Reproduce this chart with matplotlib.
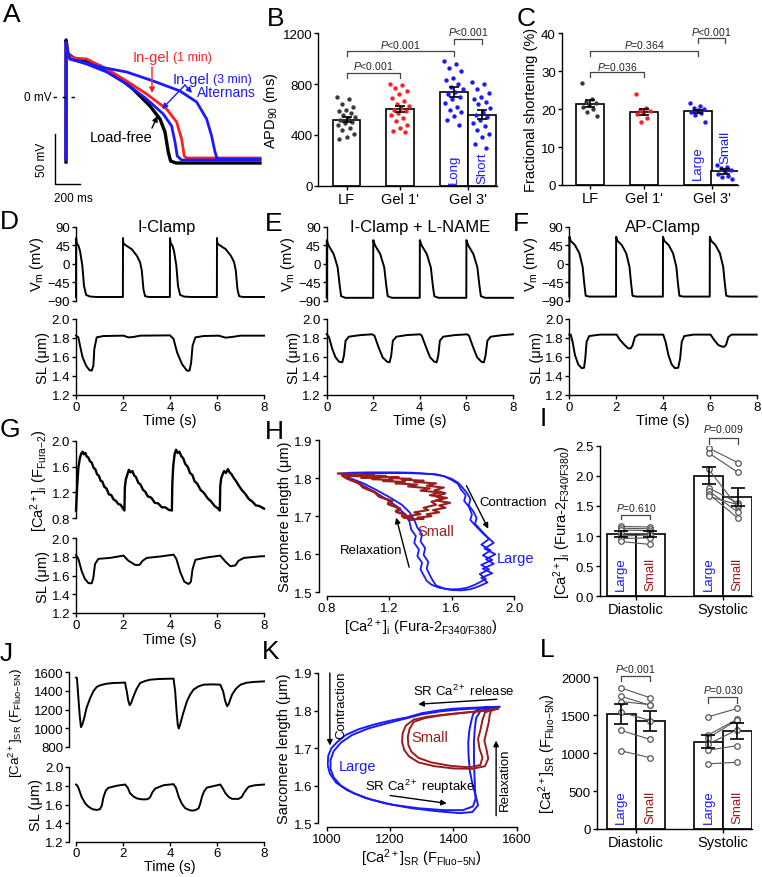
import numpy as np
import matplotlib
matplotlib.use('Agg')
import matplotlib.pyplot as plt

plt.rcParams['font.family'] = ['Liberation Sans', 'DejaVu Sans']
plt.rcParams['mathtext.fontset'] = 'custom'
plt.rcParams['mathtext.rm'] = 'Liberation Sans'
plt.rcParams['mathtext.it'] = 'Liberation Sans:italic'
plt.rcParams['mathtext.bf'] = 'Liberation Sans:bold'
plt.rcParams['axes.linewidth'] = 1.0

# ---------------- DATA ----------------
# Panel A: action potentials (time ms, mV)
A_black_t = [0, 1, 16, 60, 165, 272, 405, 536, 672, 752, 792, 818, 837, 880, 1552]
A_black_v = [-65, 57, 43, 39, 36, 31, 21, 8, -9, -22, -35, -55, -64, -66, -66]
A_red_t = [0, 1, 16, 60, 165, 325, 485, 645, 805, 885, 925, 946, 965, 1552]
A_red_v = [-62, 55, 42, 39, 38, 28, 16, 3, -12, -25, -42, -59, -61, -61]
A_bshort_t = [0, 1, 12, 32, 165, 325, 485, 645, 778, 845, 872, 890, 925, 1552]
A_bshort_v = [-62, 55, 44, 38, 33, 25, 13, -2, -17, -29, -45, -59, -63, -63]
A_blong_t = [0, 1, 12, 32, 165, 272, 485, 698, 912, 1045, 1125, 1165, 1192, 1210, 1552]
A_blong_v = [-62, 55, 44, 38, 34, 30, 25, 16, 6, -5, -22, -39, -55, -62, -62]

# Panel B: APD90 (ms)
B_groups = ["LF", "Gel 1'", "Gel 3'"]
B_means = [520, 605, 735, 560]
B_sem = [20, 25, 40, 35]
B_LF = [700, 685, 640, 620, 600, 585, 570, 555, 540, 530, 520, 505, 495, 475, 455, 435, 410, 385, 365]
B_Gel1 = [800, 795, 770, 745, 720, 690, 665, 640, 625, 610, 600, 590, 575, 560, 530, 510, 480, 455, 430, 420]
B_Long = [980, 960, 930, 900, 850, 830, 800, 780, 760, 740, 720, 700, 680, 650, 620, 600, 580, 550, 520, 480]
B_Short = [820, 800, 760, 730, 700, 680, 660, 640, 610, 580, 560, 540, 520, 490, 470, 440, 410, 380, 330, 300]

# Panel C: fractional shortening (%)
C_means = [21.4, 19.3, 19.4, 3.6]
C_sem = [0.9, 0.8, 0.5, 0.6]
C_LF = [26.8, 22.6, 22.0, 21.5, 21.0, 20.5, 20.0, 19.2, 18.2]
C_Gel1 = [24.1, 20.2, 19.8, 19.4, 19.0, 18.6, 17.6, 16.5]
C_Large = [21.5, 20.7, 20.3, 20.0, 19.7, 19.3, 19.0, 18.4, 16.6]
C_Small = [5.4, 4.7, 4.4, 3.9, 3.5, 3.0, 2.5, 2.2, 1.5]

# Panel D: I-Clamp
D_vm_t = [0, 0.005, 0.03, 0.1, 0.17, 0.27, 0.34, 0.43, 0.6, 0.9,
          1.995, 2.0, 2.01, 2.05, 2.37, 2.59, 2.73, 2.8, 2.87, 2.94, 3.1,
          3.995, 4.0, 4.03, 4.1, 4.17, 4.27, 4.34, 4.43, 4.6, 4.9,
          5.995, 6.0, 6.01, 6.05, 6.37, 6.59, 6.73, 6.8, 6.87, 6.94, 7.1, 8.0]
D_vm_v = [-81, 62, 50, 44, 31, -5, -54, -76, -80, -81,
          -81, 62, 52, 47, 35, 19, 3, -17, -62, -79, -81,
          -81, 62, 50, 44, 31, -5, -54, -76, -80, -81,
          -81, 62, 52, 47, 35, 19, 3, -17, -62, -79, -81, -81]
D_sl_t = [0, 0.1, 0.17, 0.28, 0.43, 0.57, 0.67, 0.74, 0.78, 0.88, 1.17, 2.02, 2.23, 2.45, 2.73,
          4.0, 4.15, 4.3, 4.51, 4.72, 4.83, 4.9, 4.96, 5.08, 5.43, 6.07, 6.36, 6.64, 7.0, 8.0]
D_sl_v = [1.824, 1.806, 1.72, 1.595, 1.507, 1.46, 1.454, 1.507, 1.683, 1.806, 1.82, 1.824, 1.806, 1.81, 1.824,
          1.827, 1.79, 1.648, 1.524, 1.454, 1.454, 1.54, 1.718, 1.806, 1.82, 1.824, 1.803, 1.81, 1.824, 1.824]

# Panel E: I-Clamp + L-NAME
E_vm_t = [0, 0.005, 0.07, 0.3, 0.47, 0.56, 0.62, 0.8,
          1.995, 2.0, 2.07, 2.3, 2.47, 2.56, 2.62, 2.8,
          3.995, 4.0, 4.07, 4.3, 4.47, 4.56, 4.62, 4.8,
          5.995, 6.0, 6.07, 6.3, 6.47, 6.56, 6.62, 6.8, 8.0]
E_vm_v = [-83, 57, 45, 23, -9, -54, -79, -83,
          -83, 57, 45, 23, -9, -54, -79, -83,
          -83, 57, 45, 23, -9, -54, -79, -83,
          -83, 57, 45, 23, -9, -54, -79, -83, -83]
E_sl_t = [0, 0.1, 0.24, 0.38, 0.53, 0.67, 0.74, 0.81, 0.95, 1.45,
          1.95, 2.05, 2.23, 2.4, 2.59, 2.7, 2.77, 2.84, 2.99, 3.44,
          4.01, 4.08, 4.27, 4.44, 4.62, 4.72, 4.79, 4.86, 5.0, 5.5,
          6.03, 6.11, 6.29, 6.46, 6.64, 6.75, 6.82, 6.9, 7.04, 7.56, 8.0]
E_sl_v = [1.84, 1.806, 1.683, 1.595, 1.549, 1.542, 1.612, 1.77, 1.813, 1.83,
          1.838, 1.824, 1.70, 1.595, 1.549, 1.542, 1.612, 1.77, 1.813, 1.83,
          1.838, 1.824, 1.70, 1.595, 1.549, 1.542, 1.612, 1.77, 1.813, 1.83,
          1.838, 1.824, 1.70, 1.595, 1.549, 1.542, 1.612, 1.77, 1.813, 1.83, 1.838]

# Panel F: AP-Clamp
F_vm_t = [0, 0.005, 0.06, 0.24, 0.43, 0.57, 0.64, 0.7, 0.85,
          1.995, 2.0, 2.06, 2.24, 2.43, 2.57, 2.64, 2.7, 2.85,
          3.995, 4.0, 4.06, 4.24, 4.43, 4.57, 4.64, 4.7, 4.85,
          5.995, 6.0, 6.06, 6.24, 6.43, 6.57, 6.64, 6.7, 6.85, 8.0]
F_vm_v = [-80, 65, 55, 45, 25, -8, -49, -78, -80,
          -80, 65, 55, 45, 25, -8, -49, -78, -80,
          -80, 65, 55, 45, 25, -8, -49, -78, -80,
          -80, 65, 55, 45, 25, -8, -49, -78, -80, -80]
F_sl_t = [0, 0.06, 0.14, 0.24, 0.38, 0.53, 0.63, 0.68, 0.74, 0.85,
          1.31, 2.02, 2.16, 2.38, 2.52, 2.62, 2.7, 2.8, 2.95, 4.01,
          4.11, 4.23, 4.37, 4.51, 4.65, 4.73, 4.8, 4.91, 5.3, 6.03,
          6.18, 6.36, 6.5, 6.6, 6.69, 6.79, 6.93, 8.0]
F_sl_v = [1.835, 1.835, 1.76, 1.62, 1.52, 1.48, 1.485, 1.58, 1.76, 1.82,
          1.835, 1.835, 1.78, 1.72, 1.69, 1.69, 1.72, 1.81, 1.835, 1.835,
          1.76, 1.62, 1.52, 1.48, 1.485, 1.58, 1.76, 1.82, 1.835, 1.835,
          1.78, 1.725, 1.71, 1.705, 1.725, 1.81, 1.835, 1.835]

# Panel G: cytosolic Ca (Fura-2) and SL
G_ca_t = [0, 0.05, 0.1, 0.17, 0.22, 0.28, 0.33, 0.4, 0.45, 0.52,
          0.6, 0.67, 0.75, 0.82, 0.9, 0.97, 1.05, 1.12, 1.2, 1.3,
          1.4, 1.5, 1.6, 1.7, 1.8, 1.9, 2.0, 2.06, 2.08, 2.12,
          2.18, 2.25, 2.32, 2.4, 2.48, 2.55, 2.65, 2.75, 2.85, 2.95,
          3.05, 3.2, 3.35, 3.5, 3.65, 3.8, 3.95, 4.08, 4.1, 4.14,
          4.2, 4.26, 4.32, 4.4, 4.48, 4.56, 4.65, 4.75, 4.85, 4.95,
          5.05, 5.15, 5.3, 5.45, 5.6, 5.75, 5.9, 6.05, 6.12, 6.14,
          6.18, 6.24, 6.3, 6.38, 6.46, 6.54, 6.62, 6.72, 6.82, 6.92,
          7.05, 7.2, 7.35, 7.5, 7.65, 7.8, 8.0]
G_ca_v = [0.92, 1.30, 1.58, 1.74, 1.80, 1.83, 1.79, 1.81, 1.76, 1.74,
          1.68, 1.66, 1.58, 1.56, 1.48, 1.46, 1.38, 1.37, 1.29, 1.26,
          1.17, 1.16, 1.09, 1.07, 1.02, 1.01, 0.95, 0.92, 1.28, 1.40,
          1.47, 1.55, 1.51, 1.53, 1.46, 1.44, 1.35, 1.32, 1.24, 1.21,
          1.14, 1.12, 1.04, 1.03, 0.97, 0.97, 0.93, 0.92, 1.35, 1.62,
          1.80, 1.86, 1.81, 1.83, 1.76, 1.73, 1.64, 1.60, 1.50, 1.47,
          1.37, 1.34, 1.24, 1.19, 1.11, 1.06, 0.99, 0.95, 0.92, 1.30,
          1.42, 1.48, 1.53, 1.50, 1.56, 1.51, 1.48, 1.42, 1.37, 1.31,
          1.24, 1.18, 1.10, 1.06, 1.00, 0.99, 0.95]
G_sl_t = [0, 0.1, 0.24, 0.38, 0.53, 0.67, 0.74, 0.81, 0.95, 1.45,
          2.02, 2.23, 2.52, 2.7, 2.84, 3.01, 3.58, 4.15, 4.27, 4.44,
          4.61, 4.79, 4.89, 4.96, 5.08, 5.57, 6.14, 6.36, 6.57, 6.78,
          6.92, 7.14, 7.85, 8.0]
G_sl_v = [1.82, 1.78, 1.65, 1.565, 1.52, 1.518, 1.58, 1.725, 1.78, 1.79,
          1.815, 1.76, 1.715, 1.715, 1.76, 1.79, 1.805, 1.825, 1.78, 1.635,
          1.535, 1.51, 1.535, 1.67, 1.77, 1.795, 1.815, 1.75, 1.70, 1.71,
          1.76, 1.79, 1.807, 1.808]

# Panel H: SL vs cytosolic Ca loops
H_large1_x = [0.88, 0.95, 1.05, 1.15, 1.25, 1.35, 1.42, 1.50, 1.55, 1.60,
              1.64, 1.66, 1.69, 1.68, 1.71, 1.73, 1.72, 1.76, 1.80, 1.84,
              1.79, 1.85, 1.80, 1.86, 1.79, 1.84, 1.78, 1.82, 1.75, 1.70,
              1.64, 1.58, 1.52, 1.47, 1.44, 1.42, 1.40, 1.41, 1.38, 1.39,
              1.36, 1.37, 1.34, 1.33, 1.30, 1.25, 1.18, 1.10, 1.02, 0.95, 0.90]
H_large1_y = [1.812, 1.814, 1.815, 1.815, 1.815, 1.814, 1.812, 1.810, 1.805, 1.795,
              1.785, 1.770, 1.755, 1.740, 1.725, 1.705, 1.690, 1.672, 1.655, 1.640,
              1.625, 1.610, 1.597, 1.585, 1.572, 1.560, 1.548, 1.535, 1.520, 1.512,
              1.508, 1.508, 1.512, 1.520, 1.530, 1.545, 1.560, 1.578, 1.595, 1.612,
              1.630, 1.648, 1.665, 1.685, 1.705, 1.725, 1.745, 1.765, 1.783, 1.798, 1.808]
H_large2_x = [0.90, 1.00, 1.10, 1.20, 1.30, 1.40, 1.48, 1.55, 1.60, 1.64,
              1.67, 1.70, 1.72, 1.71, 1.74, 1.76, 1.75, 1.79, 1.83, 1.87,
              1.81, 1.88, 1.82, 1.87, 1.80, 1.86, 1.79, 1.83, 1.77, 1.72,
              1.66, 1.60, 1.55, 1.50, 1.48, 1.46, 1.44, 1.45, 1.42, 1.43,
              1.40, 1.41, 1.38, 1.36, 1.33, 1.28, 1.20, 1.12, 1.04, 0.96, 0.91]
H_large2_y = [1.808, 1.810, 1.812, 1.813, 1.813, 1.812, 1.810, 1.805, 1.798, 1.788,
              1.775, 1.760, 1.745, 1.728, 1.712, 1.695, 1.680, 1.662, 1.645, 1.630,
              1.615, 1.600, 1.587, 1.575, 1.562, 1.550, 1.538, 1.526, 1.515, 1.508,
              1.505, 1.506, 1.510, 1.518, 1.530, 1.545, 1.562, 1.580, 1.598, 1.616,
              1.634, 1.652, 1.670, 1.690, 1.710, 1.730, 1.750, 1.768, 1.785, 1.798, 1.806]
H_small1_x = [0.87, 0.95, 1.03, 0.98, 1.10, 1.05, 1.18, 1.12, 1.26, 1.20,
              1.34, 1.28, 1.42, 1.36, 1.50, 1.44, 1.55, 1.49, 1.56, 1.50,
              1.54, 1.47, 1.50, 1.42, 1.45, 1.36, 1.40, 1.31, 1.34, 1.28,
              1.30, 1.24, 1.26, 1.19, 1.20, 1.13, 1.10, 1.03, 1.00, 0.93, 0.90]
H_small1_y = [1.812, 1.811, 1.810, 1.808, 1.808, 1.806, 1.805, 1.803, 1.802, 1.800,
              1.798, 1.796, 1.793, 1.790, 1.786, 1.780, 1.775, 1.768, 1.760, 1.752,
              1.745, 1.738, 1.730, 1.722, 1.716, 1.710, 1.705, 1.700, 1.698, 1.700,
              1.706, 1.712, 1.722, 1.732, 1.742, 1.752, 1.765, 1.775, 1.788, 1.798, 1.806]
H_small2_x = [0.90, 0.99, 1.07, 1.02, 1.14, 1.09, 1.22, 1.16, 1.30, 1.24,
              1.38, 1.32, 1.46, 1.40, 1.53, 1.46, 1.57, 1.50, 1.59, 1.52,
              1.56, 1.48, 1.52, 1.44, 1.47, 1.38, 1.42, 1.33, 1.36, 1.29,
              1.31, 1.25, 1.27, 1.20, 1.22, 1.14, 1.12, 1.05, 1.02, 0.95, 0.91]
H_small2_y = [1.806, 1.805, 1.803, 1.801, 1.800, 1.797, 1.795, 1.792, 1.790, 1.786,
              1.783, 1.778, 1.773, 1.767, 1.762, 1.755, 1.748, 1.741, 1.735, 1.728,
              1.722, 1.716, 1.710, 1.705, 1.700, 1.696, 1.693, 1.691, 1.692, 1.696,
              1.702, 1.710, 1.720, 1.730, 1.740, 1.750, 1.760, 1.772, 1.783, 1.795, 1.803]

# Panel I: cytosolic Ca, paired
I_groups = ["Diastolic", "Systolic"]
I_means = [1.04, 1.03, 2.00, 1.65]
I_sem = [0.05, 0.05, 0.14, 0.15]
I_dia_large = [1.16, 1.13, 1.10, 1.05, 1.00, 0.96, 0.91]
I_dia_small = [1.15, 1.12, 1.09, 1.05, 1.02, 0.97, 0.86]
I_sys_large = [2.46, 2.38, 2.11, 1.80, 1.75, 1.70, 1.66]
I_sys_small = [2.22, 2.06, 1.48, 1.55, 1.40, 1.30, 1.52]

# Panel J: SR Ca (Fluo-5N) and SL
J_ca_t = [0, 0.04, 0.1, 0.16, 0.21, 0.27, 0.35, 0.45, 0.6, 0.74,
          0.88, 1.02, 1.3, 1.6, 1.9, 2.09, 2.12, 2.16, 2.22, 2.28,
          2.34, 2.45, 2.58, 2.73, 2.95, 3.16, 3.5, 3.9, 4.15, 4.18,
          4.22, 4.28, 4.33, 4.37, 4.42, 4.55, 4.72, 4.86, 5.0, 5.2,
          5.43, 5.8, 6.14, 6.18, 6.26, 6.35, 6.43, 6.5, 6.64, 6.8,
          7.0, 7.25, 7.56, 8.0]
J_ca_v = [1540, 1535, 1330, 1130, 1012, 1040, 1110, 1218, 1320, 1395,
          1440, 1458, 1475, 1483, 1485, 1488, 1440, 1395, 1300, 1246,
          1265, 1342, 1420, 1483, 1505, 1518, 1525, 1528, 1529, 1470,
          1395, 1180, 1040, 998, 1030, 1150, 1288, 1360, 1412, 1445,
          1465, 1468, 1465, 1440, 1395, 1290, 1235, 1260, 1359, 1420,
          1465, 1485, 1494, 1500]
J_sl_t = [0, 0.03, 0.1, 0.24, 0.4, 0.53, 0.7, 0.88, 1.02, 1.1,
          1.17, 1.27, 1.38, 1.73, 2.09, 2.2, 2.3, 2.45, 2.59, 2.8,
          3.01, 3.1, 3.16, 3.25, 3.37, 3.73, 4.15, 4.25, 4.37, 4.5,
          4.65, 4.85, 5.0, 5.12, 5.22, 5.3, 5.36, 5.45, 5.57, 6.14,
          6.25, 6.36, 6.5, 6.64, 6.92, 7.05, 7.14, 7.25, 7.35, 7.6, 8.0]
J_sl_v = [1.813, 1.810, 1.78, 1.68, 1.61, 1.577, 1.55, 1.542, 1.55, 1.59,
          1.68, 1.75, 1.778, 1.80, 1.813, 1.78, 1.72, 1.685, 1.665, 1.655,
          1.655, 1.665, 1.68, 1.73, 1.77, 1.806, 1.817, 1.78, 1.683, 1.61,
          1.56, 1.538, 1.535, 1.545, 1.56, 1.62, 1.683, 1.74, 1.78, 1.813,
          1.77, 1.72, 1.68, 1.66, 1.66, 1.68, 1.72, 1.76, 1.79, 1.805, 1.813]

# Panel K: SL vs SR Ca loops
K_large1_x = [1545, 1500, 1450, 1400, 1350, 1300, 1255, 1200, 1150, 1100,
              1060, 1035, 1015, 1005, 1003, 1010, 1030, 1065, 1120, 1190,
              1270, 1350, 1420, 1460, 1478, 1470, 1460, 1452, 1448, 1447,
              1450, 1456, 1462, 1475, 1500, 1545]
K_large1_y = [1.810, 1.809, 1.807, 1.805, 1.800, 1.793, 1.782, 1.773, 1.763, 1.750,
              1.735, 1.718, 1.700, 1.680, 1.655, 1.632, 1.608, 1.588, 1.568, 1.552,
              1.540, 1.532, 1.527, 1.530, 1.548, 1.575, 1.605, 1.640, 1.680, 1.715,
              1.745, 1.770, 1.790, 1.802, 1.808, 1.810]
K_large2_x = [1530, 1480, 1420, 1360, 1300, 1250, 1190, 1130, 1080, 1045,
              1022, 1012, 1012, 1022, 1045, 1085, 1140, 1210, 1290, 1370,
              1430, 1462, 1470, 1468, 1466, 1465, 1465, 1468, 1472, 1485,
              1510, 1530]
K_large2_y = [1.808, 1.806, 1.803, 1.798, 1.790, 1.779, 1.766, 1.752, 1.735, 1.715,
              1.692, 1.668, 1.645, 1.622, 1.600, 1.580, 1.563, 1.549, 1.540, 1.535,
              1.535, 1.545, 1.565, 1.600, 1.640, 1.680, 1.720, 1.755, 1.780, 1.798,
              1.806, 1.808]
K_small1_x = [1540, 1500, 1440, 1380, 1320, 1275, 1250, 1240, 1238, 1245,
              1260, 1290, 1340, 1400, 1460, 1500, 1510, 1505, 1498, 1505,
              1512, 1515, 1520, 1540]
K_small1_y = [1.805, 1.800, 1.795, 1.790, 1.784, 1.776, 1.760, 1.740, 1.716, 1.695,
              1.678, 1.662, 1.652, 1.646, 1.645, 1.652, 1.672, 1.695, 1.720, 1.745,
              1.770, 1.790, 1.800, 1.805]
K_small2_x = [1525, 1480, 1420, 1360, 1310, 1275, 1262, 1256, 1258, 1268,
              1290, 1330, 1390, 1450, 1485, 1492, 1482, 1478, 1486, 1492,
              1500, 1525]
K_small2_y = [1.803, 1.798, 1.793, 1.787, 1.780, 1.770, 1.752, 1.730, 1.708, 1.690,
              1.674, 1.662, 1.653, 1.649, 1.655, 1.675, 1.700, 1.725, 1.750, 1.775,
              1.795, 1.803]

# Panel L: SR Ca, paired
L_means = [1520, 1420, 1150, 1290]
L_sem = [130, 130, 85, 110]
L_dia_large = [1860, 1750, 1680, 1540, 1300, 1030]
L_dia_small = [1730, 1630, 1640, 1430, 1180, 940]
L_sys_large = [1480, 1240, 1200, 1120, 1040, 860]
L_sys_small = [1590, 1450, 1440, 1310, 1100, 880]

# ---------------- STYLE ----------------
BLUE = '#1a1aff'
RED = '#ff1f1f'
DRED = '#9b1c1c'
PTK = '#3a3a3a'
GRAY = '#555555'
W, H = 762, 878
TICK_FS = 9.5
LAB_FS = 10.5

fig = plt.figure(figsize=(W / 100, H / 100), dpi=100)


def pax(l, t, r, b):
    return fig.add_axes([l / W, 1 - b / H, (r - l) / W, (b - t) / H])


def style(ax, bottom=True):
    for s in ['top', 'right']:
        ax.spines[s].set_visible(False)
    if not bottom:
        ax.spines['bottom'].set_visible(False)
        ax.tick_params(axis='x', bottom=False, labelbottom=False)
    ax.tick_params(direction='out', length=3, width=1, labelsize=TICK_FS, pad=1.2)
    ax.patch.set_alpha(0)


def bracket(ax, x1, x2, y, drop, ytext, label, fs=7.5):
    ax.plot([x1, x1, x2, x2], [y - drop, y, y, y - drop], color='#444444', lw=0.9, clip_on=False)
    ax.text((x1 + x2) / 2, ytext, label, ha='center', va='center', fontsize=fs, color='#222222', clip_on=False)


def spread(n, w):
    return (((np.arange(n) * 0.618034) % 1.0) - 0.5) * w


def letter(x, y, s):
    fig.text(x / W, 1 - y / H, s, fontsize=19, va='top', ha='left')


PLT = r'$\mathit{P}$<0.001'

# ---------------- Panel A ----------------
axA = pax(55, 35, 262, 190)
axA.set_xlim(-88, 1568)
axA.set_ylim(-92, 63)
axA.axis('off')
axA.plot(A_black_t, A_black_v, color='black', lw=2.4, clip_on=False, solid_joinstyle='round')
axA.plot(A_red_t, A_red_v, color=RED, lw=2.0, clip_on=False)
axA.plot(A_bshort_t, A_bshort_v, color=BLUE, lw=2.0, clip_on=False)
axA.plot(A_blong_t, A_blong_v, color=BLUE, lw=2.0, clip_on=False)
axA.plot([-88, -88, 112], [-37, -87, -87], color='black', lw=1.0, clip_on=False)
axA.text(-190, -62, '50 mV', rotation=90, ha='center', va='center', fontsize=8.5)
axA.text(-96, -95, '200 ms', ha='left', va='top', fontsize=8.5)
axA.text(-118, 0, '0 mV', ha='right', va='center', fontsize=8.5)
axA.plot([-104, 112], [0, 0], color='black', lw=1.0, ls=(0, (2.5, 4)), clip_on=False)
axA.text(536, 40, 'In-gel', color=RED, fontsize=10.5, va='center', ha='left')
axA.text(856, 40, '(1 min)', color=RED, fontsize=9, va='center', ha='left')
axA.text(856, 18, 'In-gel', color=BLUE, fontsize=10.5, va='center', ha='left')
axA.text(1176, 18, '(3 min)', color=BLUE, fontsize=9, va='center', ha='left')
axA.text(1048, 5, 'Alternans', color=BLUE, fontsize=10, va='center', ha='left')
axA.text(192, -40, 'Load-free', color='black', fontsize=10.5, va='center', ha='left')
ap = dict(arrowstyle='-|>', lw=1.0, mutation_scale=8, shrinkA=0, shrinkB=0)
axA.annotate('', xy=(688, 4), xytext=(688, 30), arrowprops=dict(ap, color=RED))
axA.annotate('', xy=(768, -12), xytext=(952, 12), arrowprops=dict(ap, color=BLUE))
axA.annotate('', xy=(1008, 4), xytext=(952, 12), arrowprops=dict(ap, color=BLUE))
axA.annotate('', xy=(732, -19), xytext=(688, -31), arrowprops=dict(ap, color='black'))

# ---------------- Panel B ----------------
axB = pax(318.3, 34.3, 496.7, 186.7)
style(axB)
B_pos = [0, 1, 2.01, 2.53]
axB.bar(B_pos, B_means, width=0.52, color='white', edgecolor='black', lw=1.2, zorder=1)
for x, vals, c in zip(B_pos, [B_LF, B_Gel1, B_Long, B_Short], [PTK, RED, BLUE, BLUE]):
    axB.scatter(x + spread(len(vals), 0.36), vals, s=10, color=c, lw=0, zorder=3)
axB.errorbar(B_pos, B_means, yerr=B_sem, fmt='none', ecolor='black', elinewidth=1.2,
             capsize=3.5, capthick=1.2, zorder=4)
axB.set_xlim(-0.53, 2.81)
axB.set_ylim(0, 1200)
axB.set_yticks([0, 400, 800, 1200])
axB.set_xticks([0, 1, 2.27])
axB.set_xticklabels(B_groups, fontsize=LAB_FS)
axB.set_ylabel(r'APD$_{90}$ (ms)', fontsize=LAB_FS, labelpad=2)
axB.text(2.01, 25, 'Long', rotation=90, color=BLUE, ha='center', va='bottom', fontsize=9.5)
axB.text(2.55, 25, 'Short', rotation=90, color=BLUE, ha='center', va='bottom', fontsize=9.5)
bracket(axB, 0, 1, 891, 40, 951, PLT)
bracket(axB, 0, 2.01, 1061, 40, 1113, PLT)
bracket(axB, 2.01, 2.53, 1152, 40, 1217, PLT)

# ---------------- Panel C ----------------
axC = pax(561.7, 34.3, 738, 186)
style(axC)
C_pos = [0, 1, 2.0, 2.5]
axC.bar(C_pos, C_means, width=0.51, color='white', edgecolor='black', lw=1.2, zorder=1)
for x, vals, c in zip(C_pos, [C_LF, C_Gel1, C_Large, C_Small], [PTK, RED, BLUE, BLUE]):
    axC.scatter(x + spread(len(vals), 0.3), vals, s=10, color=c, lw=0, zorder=3)
axC.errorbar(C_pos, C_means, yerr=C_sem, fmt='none', ecolor='black', elinewidth=1.2,
             capsize=3.5, capthick=1.2, zorder=4)
axC.set_xlim(-0.52, 2.74)
axC.set_ylim(0, 40)
axC.set_yticks([0, 10, 20, 30, 40])
axC.set_xticks([0, 1, 2.25])
axC.set_xticklabels(B_groups, fontsize=LAB_FS)
axC.set_ylabel('Fractional shortening (%)', fontsize=LAB_FS, labelpad=2)
axC.text(2.0, 1.5, 'Large', rotation=90, color=BLUE, ha='center', va='bottom', fontsize=9.5)
axC.text(2.5, 5.9, 'Small', rotation=90, color=BLUE, ha='center', va='bottom', fontsize=9.5)
bracket(axC, 0, 1, 29.9, 1.3, 31.5, r'$\mathit{P}$=0.036')
bracket(axC, 0, 2.0, 35.4, 1.3, 37.2, r'$\mathit{P}$=0.364')
bracket(axC, 2.0, 2.5, 38.7, 1.3, 40.5, PLT)


# ---------------- Panels D, E, F ----------------
def vm_sl(l, r, vt, vv, st, sv, title, title_x, vm_top=227.5, vm_bot=301.7, sl_top=320, sl_bot=395.7):
    axv = pax(l, vm_top, r, vm_bot)
    style(axv, bottom=False)
    axv.plot(vt, vv, color='black', lw=1.4, clip_on=False)
    axv.set_xlim(0, 8)
    axv.set_ylim(-90, 90)
    axv.set_yticks([90, 45, 0, -45, -90])
    axv.set_ylabel(r'V$_\mathrm{m}$ (mV)', fontsize=LAB_FS, labelpad=1)
    axs = pax(l, sl_top, r, sl_bot)
    style(axs)
    axs.plot(st, sv, color='black', lw=1.4, clip_on=False)
    axs.set_xlim(0, 8)
    axs.set_ylim(1.2, 2.0)
    axs.set_yticks([1.2, 1.4, 1.6, 1.8, 2.0])
    axs.set_xticks([0, 2, 4, 6, 8])
    axs.set_ylabel('SL (μm)', fontsize=LAB_FS, labelpad=1)
    axs.set_xlabel('Time (s)', fontsize=LAB_FS, labelpad=0.5)
    fig.text(title_x / W, 1 - 228 / H, title, fontsize=12, ha='center', va='center')
    return axv, axs


vm_sl(76, 264, D_vm_t, D_vm_v, D_sl_t, D_sl_v, 'I-Clamp', 167)
vm_sl(326.7, 513, E_vm_t, E_vm_v, E_sl_t, E_sl_v, 'I-Clamp + L-NAME', 420)
vm_sl(569.3, 756.7, F_vm_t, F_vm_v, F_sl_t, F_sl_v, 'AP-Clamp', 663)

# ---------------- Panel G ----------------
axGc = pax(76, 441.7, 264, 519.3)
style(axGc, bottom=False)
axGc.plot(G_ca_t, G_ca_v, color='black', lw=1.7, clip_on=False)
axGc.set_xlim(0, 8)
axGc.set_ylim(0.8, 2.0)
axGc.set_yticks([0.8, 1.2, 1.6, 2.0])
axGc.set_ylabel(r'[Ca$^{2+}$]$_\mathrm{i}$ (F$_\mathrm{Fura{-}2}$)', fontsize=LAB_FS, labelpad=1)
axGs = pax(76, 539.3, 264, 614)
style(axGs)
axGs.plot(G_sl_t, G_sl_v, color='black', lw=1.4, clip_on=False)
axGs.set_xlim(0, 8)
axGs.set_ylim(1.2, 2.0)
axGs.set_yticks([1.2, 1.4, 1.6, 1.8, 2.0])
axGs.set_xticks([0, 2, 4, 6, 8])
axGs.set_ylabel('SL (μm)', fontsize=LAB_FS, labelpad=1)
axGs.set_xlabel('Time (s)', fontsize=LAB_FS, labelpad=0.5)

# ---------------- Panel H ----------------
axH = pax(327, 441, 514, 593.3)
style(axH)
axH.spines['left'].set_position(('outward', 6))
axH.spines['bottom'].set_position(('outward', 3))
axH.plot(H_large1_x, H_large1_y, color=BLUE, lw=1.3)
axH.plot(H_large2_x, H_large2_y, color=BLUE, lw=1.3)
axH.plot(H_small1_x, H_small1_y, color=DRED, lw=1.5)
axH.plot(H_small2_x, H_small2_y, color=DRED, lw=1.5)
axH.set_xlim(0.8, 2.0)
axH.set_ylim(1.5, 1.9)
axH.set_xticks([0.8, 1.2, 1.6, 2.0])
axH.set_yticks([1.5, 1.6, 1.7, 1.8, 1.9])
axH.set_xlabel(r'[Ca$^{2+}$]$_\mathrm{i}$ (Fura-2$_\mathrm{F340/F380}$)', fontsize=LAB_FS, labelpad=1)
axH.set_ylabel('Sarcomere length (μm)', fontsize=LAB_FS, labelpad=2)
axH.text(1.5, 1.66, 'Small', color=DRED, fontsize=10.5, ha='center', va='center')
axH.text(1.89, 1.59, 'Large', color=BLUE, fontsize=10.5, ha='left', va='center')
axH.text(1.78, 1.738, 'Contraction', color='black', fontsize=9.5, ha='left', va='center')
axH.text(1.08, 1.61, 'Relaxation', color='black', fontsize=9.5, ha='center', va='center')
axH.annotate('', xy=(1.835, 1.667), xytext=(1.695, 1.78), arrowprops=dict(ap, color='black'))
axH.annotate('', xy=(1.244, 1.696), xytext=(1.327, 1.566), arrowprops=dict(ap, color='black'))


# ---------------- Panels I and L ----------------
def paired(ax, means, sems, dl, ds, sl, ss, cap):
    pos = [0, 1, 3, 4]
    ax.bar(pos, means, width=1.0, color='white', edgecolor='black', lw=1.2, zorder=1)
    for a, b in zip(dl, ds):
        ax.plot([0, 1], [a, b], color=GRAY, lw=0.8, zorder=2)
    for a, b in zip(sl, ss):
        ax.plot([3, 4], [a, b], color=GRAY, lw=0.8, zorder=2)
    for x, vals in zip(pos, [dl, ds, sl, ss]):
        ax.scatter([x] * len(vals), vals, s=16, facecolor='white', edgecolor=GRAY, lw=0.9, zorder=3)
    ax.errorbar(pos, means, yerr=sems, fmt='none', ecolor='black', elinewidth=1.2,
                capsize=cap, capthick=1.2, zorder=4)
    ax.set_xticks([0.5, 3.5])
    ax.set_xticklabels(I_groups, fontsize=LAB_FS)


axI = pax(600, 446.7, 752.3, 597.3)
style(axI)
paired(axI, I_means, I_sem, I_dia_large, I_dia_small, I_sys_large, I_sys_small, 5)
axI.set_xlim(-0.73, 4.5)
axI.set_ylim(0, 2.5)
axI.set_yticks([0, 0.5, 1.0, 1.5, 2.0, 2.5])
axI.set_yticklabels(['0.0', '0.5', '1.0', '1.5', '2.0', '2.5'])
axI.set_ylabel(r'[Ca$^{2+}$]$_\mathrm{i}$ (Fura-2$_\mathrm{F340/F380}$)', fontsize=LAB_FS, labelpad=2)
for x, s, c in [(0, 'Large', BLUE), (1, 'Small', DRED), (3, 'Large', BLUE), (4, 'Small', DRED)]:
    axI.text(x, 0.1, s, rotation=90, color=c, ha='center', va='bottom', fontsize=9.5)
bracket(axI, 0, 1, 1.35, 0.07, 1.49, r'$\mathit{P}$=0.610')
bracket(axI, 3, 4, 2.63, 0.1, 2.79, r'$\mathit{P}$=0.009')

axL = pax(596.7, 678.3, 752, 830)
style(axL)
paired(axL, L_means, L_sem, L_dia_large, L_dia_small, L_sys_large, L_sys_small, 5)
axL.set_xlim(-0.84, 4.5)
axL.set_ylim(0, 2000)
axL.set_yticks([0, 500, 1000, 1500, 2000])
axL.set_ylabel(r'[Ca$^{2+}$]$_\mathrm{SR}$ (F$_\mathrm{Fluo{-}5N}$)', fontsize=LAB_FS, labelpad=2)
for x, s, c in [(0, 'Large', BLUE), (1, 'Small', DRED), (3, 'Large', BLUE), (4, 'Small', DRED)]:
    axL.text(x, 80, s, rotation=90, color=c, ha='center', va='bottom', fontsize=9.5)
bracket(axL, 0, 1, 2022, 70, 2123, PLT)
bracket(axL, 3, 4, 1736, 70, 1846, r'$\mathit{P}$=0.030')

# ---------------- Panel J ----------------
axJc = pax(76, 673, 264, 748)
style(axJc, bottom=False)
axJc.spines['left'].set_position(('outward', 5))
axJc.plot(J_ca_t, J_ca_v, color='black', lw=1.4, clip_on=False)
axJc.set_xlim(0, 8)
axJc.set_ylim(800, 1600)
axJc.set_yticks([800, 1000, 1200, 1400, 1600])
axJc.set_ylabel(r'[Ca$^{2+}$]$_\mathrm{SR}$ (F$_\mathrm{Fluo{-}5N}$)', fontsize=9.6, labelpad=1)
axJc.yaxis.set_label_coords(-0.27, 0.34)
axJs = pax(76, 768, 264, 843)
style(axJs)
axJs.spines['left'].set_position(('outward', 5))
axJs.plot(J_sl_t, J_sl_v, color='black', lw=1.4, clip_on=False)
axJs.set_xlim(0, 8)
axJs.set_ylim(1.2, 2.0)
axJs.set_yticks([1.2, 1.4, 1.6, 1.8, 2.0])
axJs.set_xticks([0, 2, 4, 6, 8])
axJs.tick_params(axis='x', pad=0.5)
axJs.set_ylabel('SL (μm)', fontsize=LAB_FS, labelpad=1)
axJs.set_xlabel('Time (s)', fontsize=10.2, labelpad=0)

# ---------------- Panel K ----------------
axK = pax(326.7, 674, 516.7, 824.3)
style(axK)
axK.spines['left'].set_position(('outward', 6))
axK.spines['bottom'].set_position(('outward', 3))
axK.plot(K_large1_x, K_large1_y, color=BLUE, lw=1.4)
axK.plot(K_large2_x, K_large2_y, color=BLUE, lw=1.4)
axK.plot(K_small1_x, K_small1_y, color=DRED, lw=1.4)
axK.plot(K_small2_x, K_small2_y, color=DRED, lw=1.4)
axK.set_xlim(1000, 1600)
axK.set_ylim(1.5, 1.9)
axK.set_xticks([1000, 1200, 1400, 1600])
axK.set_yticks([1.5, 1.6, 1.7, 1.8, 1.9])
axK.set_xlabel(r'[Ca$^{2+}$]$_\mathrm{SR}$ (F$_\mathrm{Fluo{-}5N}$)', fontsize=LAB_FS, labelpad=1)
axK.set_ylabel('Sarcomere length (μm)', fontsize=LAB_FS, labelpad=2)
axK.text(1326, 1.729, 'Small', color=DRED, fontsize=10.5, ha='center', va='center')
axK.text(1097, 1.653, 'Large', color=BLUE, fontsize=10.5, ha='center', va='center')
axK.text(1274, 1.853, r'SR Ca$^{2+}$ release', fontsize=9.5, ha='left', va='center')
axK.text(1121, 1.60, r'SR Ca$^{2+}$ reuptake', fontsize=9.5, ha='left', va='center')
axK.text(1046, 1.816, 'Contraction', rotation=90, fontsize=9.5, ha='center', va='center')
axK.text(1562, 1.618, 'Relaxation', rotation=90, fontsize=9.5, ha='center', va='center', clip_on=False)
axK.annotate('', xy=(1289, 1.817), xytext=(1537, 1.83), arrowprops=dict(ap, color='black'))
axK.annotate('', xy=(1379, 1.553), xytext=(1200, 1.574), arrowprops=dict(ap, color='black'))
axK.annotate('', xy=(1010, 1.707), xytext=(1010, 1.9), arrowprops=dict(ap, color='black'))
axK.annotate('', xy=(1535, 1.72), xytext=(1535, 1.52), arrowprops=dict(ap, color='black'))

# ---------------- Panel letters ----------------
for (x, y, s) in [(3, 3, 'A'), (267, 7, 'B'), (517, 7, 'C'), (0, 210, 'D'), (265, 212, 'E'),
                  (513, 212, 'F'), (0, 418, 'G'), (265, 420, 'H'), (540, 407, 'I'),
                  (0, 642, 'J'), (262, 640, 'K'), (540, 638, 'L')]:
    letter(x, y, s)

fig.savefig('out.png', dpi=100)
